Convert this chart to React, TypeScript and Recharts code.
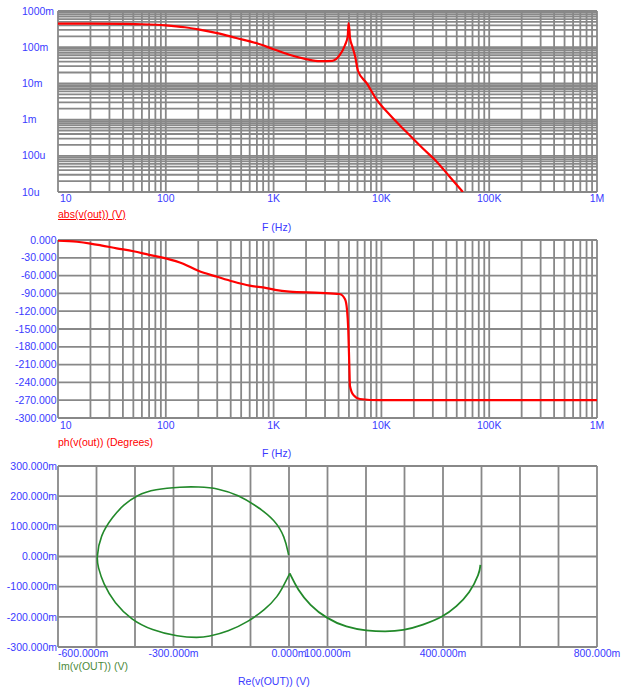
import React from 'react';
import { LineChart, Line, XAxis, YAxis, CartesianGrid } from 'recharts';

// magnitude trace
const magFreq = [10, 20, 40, 60, 100, 150, 200, 300, 450, 700, 1000, 1400, 2000, 2700, 3500, 4100, 4600, 4870, 4960, 5050, 5110, 5400, 5700, 6070, 7300, 9000, 12000, 17000, 24000, 32600, 43000, 57000];
const magVolts = [0.45, 0.448, 0.44, 0.43, 0.4, 0.355, 0.31, 0.245, 0.18, 0.128, 0.088, 0.062, 0.047, 0.041, 0.042, 0.06, 0.115, 0.2, 0.46, 0.3, 0.18, 0.1, 0.056, 0.022, 0.0102, 0.0036, 0.00134, 0.00046, 0.000164, 0.000069, 0.0000265, 0.00001];

// phase trace
const phaseFreq = [10, 15, 20, 25, 35, 50, 70, 100, 145, 200, 300, 420, 600, 860, 1030, 1400, 2700, 4100, 4600, 4800, 4930, 5040, 5110, 5490, 6330, 9700, 1000000];
const phaseDeg = [-1, -3, -6, -9, -14, -19, -25, -31, -40, -52, -62, -70, -77, -81, -84, -87, -89, -91, -100, -118, -152, -211, -246, -261, -268, -270, -270];

// nyquist trace (Re, Im of v(OUT)), in volts; low frequency first
const reOut = [0.497, 0.495, 0.469, 0.435, 0.4, 0.348, 0.296, 0.25, 0.201, 0.149, 0.097, 0.054, 0.023, 0.002,
  -0.011, -0.029, -0.063, -0.106, -0.158, -0.21, -0.236, -0.288, -0.357, -0.409, -0.453, -0.483, -0.496, -0.5,
  -0.49, -0.458, -0.43, -0.395, -0.349, -0.279, -0.236, -0.184, -0.132, -0.081, -0.037, -0.011, -0.001];
const imOut = [-0.028, -0.056, -0.122, -0.166, -0.2, -0.227, -0.246, -0.249, -0.246, -0.235, -0.205, -0.161, -0.111, -0.056,
  -0.089, -0.133, -0.177, -0.216, -0.249, -0.266, -0.269, -0.266, -0.244, -0.21, -0.155, -0.089, -0.034, -0.006,
  0.071, 0.132, 0.171, 0.204, 0.223, 0.231, 0.231, 0.226, 0.204, 0.165, 0.121, 0.066, 0.005];
const cuspIndex = 13; // where the trace turns back at about (0, -56m)

const freqTicks = [10, 100, 1000, 10000, 100000, 1000000];
const freqLabels = ['10', '100', '1K', '10K', '100K', '1M'];
const magTicks = [1, 0.1, 0.01, 0.001, 0.0001, 0.00001];
const magLabels = ['1000m', '100m', '10m', '1m', '100u', '10u'];
const phaseTicks = [0, -30, -60, -90, -120, -150, -180, -210, -240, -270, -300];
const reTicks = [-0.6, -0.3, 0, 0.1, 0.4, 0.8];
const reGrid = [-0.6, -0.5, -0.4, -0.3, -0.2, -0.1, 0, 0.1, 0.2, 0.3, 0.4, 0.5, 0.6, 0.7, 0.8];
const imTicks = [0.3, 0.2, 0.1, 0, -0.1, -0.2, -0.3];

const FONT = '"Liberation Sans", Arial, sans-serif';
const BLUE = '#3a3aff';
const RED = '#ff0000';
const GREEN = '#22892a';
const GRID = '#888888';

function logGrid(lo: number, hi: number) {
  const out: number[] = [];
  for (let d = lo; d < hi * 0.99; d *= 10) {
    for (let k = 1; k < 10; k++) out.push(d * k);
  }
  out.push(hi);
  return out;
}

const freqGrid = logGrid(10, 1000000);
const magGrid = logGrid(0.00001, 1);

const magData = magFreq.map((f, i) => ({ f, v: magVolts[i] }));
const phaseData = phaseFreq.map((f, i) => ({ f, p: phaseDeg[i] }));
const nyqData = reOut.map((re, i) => ({ re, im: imOut[i] }));
const nyqLow = nyqData.slice(0, cuspIndex + 1);
const nyqHigh = nyqData.slice(cuspIndex);

const milli = (v: number) => `${(v * 1000).toFixed(3)}m`;

function FreqTick(props: any) {
  const { x, y, index } = props;
  const first = index === 0;
  return (
    <text x={first ? x + 2 : x} y={y} dy="0.71em" textAnchor={first ? 'start' : 'middle'} fill={BLUE} fontSize={10.5} fontFamily={FONT}>
      {freqLabels[index]}
    </text>
  );
}

function MagTick(props: any) {
  const { y, index } = props;
  return (
    <text x={22} y={y} dy="0.35em" textAnchor="start" fill={BLUE} fontSize={10.5} fontFamily={FONT}>
      {magLabels[index]}
    </text>
  );
}

function PhaseTick(props: any) {
  const { y, payload } = props;
  return (
    <text x={56.5} y={y} dy="0.35em" textAnchor="end" fill={BLUE} fontSize={10.5} fontFamily={FONT}>
      {Number(payload.value).toFixed(3)}
    </text>
  );
}

function ImTick(props: any) {
  const { y, payload } = props;
  return (
    <text x={57} y={y} dy="0.35em" textAnchor="end" fill={BLUE} fontSize={10.5} fontFamily={FONT}>
      {milli(payload.value)}
    </text>
  );
}

function ReTick(props: any) {
  const { x, y, payload, index } = props;
  const first = index === 0;
  return (
    <text x={x} y={y} dy="0.71em" textAnchor={first ? 'start' : 'middle'} fill={BLUE} fontSize={10.5} fontFamily={FONT}>
      {milli(payload.value)}
    </text>
  );
}

const text = (left: number, top: number, color: string, extra: React.CSSProperties = {}): React.CSSProperties => ({
  position: 'absolute',
  left,
  top,
  color,
  fontFamily: FONT,
  fontSize: 10.5,
  lineHeight: '12px',
  whiteSpace: 'nowrap',
  ...extra,
});

export default function App() {
  return (
    <div style={{ position: 'absolute', left: 0, top: 0, width: 623, height: 688, background: '#fff', overflow: 'hidden' }}>
      <div style={{ position: 'absolute', left: 0, top: 0 }}>
        <LineChart width={623} height={222} data={magData} margin={{ top: 11, right: 26, left: 0, bottom: 0 }}>
          <CartesianGrid stroke={GRID} strokeWidth={1.8} horizontalValues={magGrid} verticalValues={freqGrid} />
          <XAxis dataKey="f" type="number" scale="log" domain={[10, 1000000]} ticks={freqTicks} interval={0} allowDataOverflow
            height={30} tickSize={0} tickMargin={3} axisLine={false} tickLine={false} tick={FreqTick} />
          <YAxis type="number" scale="log" domain={[0.00001, 1]} ticks={magTicks} interval={0} allowDataOverflow
            width={58} tickSize={0} axisLine={false} tickLine={false} tick={MagTick} />
          <Line dataKey="v" type="monotone" stroke={RED} strokeWidth={2.2} dot={false} isAnimationActive={false} />
        </LineChart>
      </div>
      <span style={text(58, 208, RED, { textDecoration: 'underline' })}>abs(v(out)) (V)</span>
      <span style={text(262, 221, BLUE)}>F (Hz)</span>

      <div style={{ position: 'absolute', left: 0, top: 229 }}>
        <LineChart width={623} height={219} data={phaseData} margin={{ top: 11, right: 26, left: 0, bottom: 0 }}>
          <CartesianGrid stroke={GRID} strokeWidth={1.8} horizontalValues={phaseTicks} verticalValues={freqGrid} />
          <XAxis dataKey="f" type="number" scale="log" domain={[10, 1000000]} ticks={freqTicks} interval={0} allowDataOverflow
            height={30} tickSize={0} tickMargin={4} axisLine={false} tickLine={false} tick={FreqTick} />
          <YAxis type="number" domain={[-300, 0]} ticks={phaseTicks} interval={0} allowDataOverflow
            width={58} tickSize={0} axisLine={false} tickLine={false} tick={PhaseTick} />
          <Line dataKey="p" type="monotone" stroke={RED} strokeWidth={2.2} dot={false} isAnimationActive={false} />
        </LineChart>
      </div>
      <span style={text(58, 436, RED)}>ph(v(out)) (Degrees)</span>
      <span style={text(262, 447, BLUE)}>F (Hz)</span>

      <div style={{ position: 'absolute', left: 0, top: 455 }}>
        <LineChart width={623} height={217} margin={{ top: 11, right: 26, left: 0, bottom: 0 }}>
          <CartesianGrid stroke={GRID} strokeWidth={1.8} horizontalValues={imTicks} verticalValues={reGrid} />
          <XAxis dataKey="re" type="number" domain={[-0.6, 0.8]} ticks={reTicks} interval={0} allowDataOverflow
            height={25} tickSize={0} tickMargin={3} axisLine={false} tickLine={false} tick={ReTick} />
          <YAxis type="number" domain={[-0.3, 0.3]} ticks={imTicks} interval={0} allowDataOverflow
            width={58} tickSize={0} axisLine={false} tickLine={false} tick={ImTick} />
          <Line data={nyqLow} dataKey="im" type="basis" stroke={GREEN} strokeWidth={1.8} dot={false} isAnimationActive={false} />
          <Line data={nyqHigh} dataKey="im" type="basis" stroke={GREEN} strokeWidth={1.6} dot={false} isAnimationActive={false} />
        </LineChart>
      </div>
      <span style={text(58, 660, '#4b8a3a')}>Im(v(OUT)) (V)</span>
      <span style={text(238, 675, BLUE)}>Re(v(OUT)) (V)</span>
    </div>
  );
}
